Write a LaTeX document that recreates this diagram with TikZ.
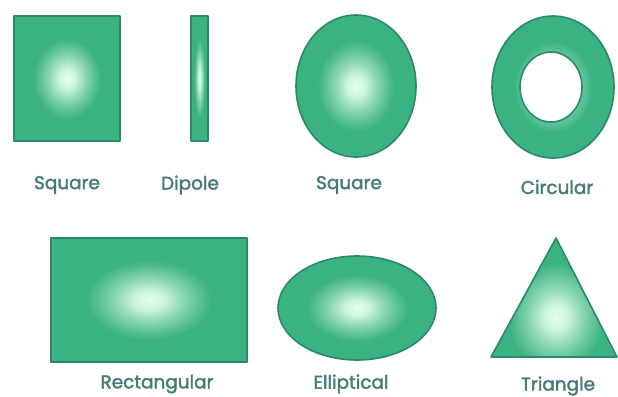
\documentclass[tikz,border=0pt]{standalone}
\usepackage{fontspec}
\setmainfont{Poppins}[FakeBold=1.8]
\definecolor{shapegreen}{HTML}{3AB282}
\definecolor{edgegreen}{HTML}{2A8A63}
\definecolor{glowc}{HTML}{E4FFEA}
\definecolor{labelc}{HTML}{467A75}
\pgfdeclareradialshading{glow}{\pgfpoint{0bp}{0bp}}{%
  color(0bp)=(glowc); color(4bp)=(glowc!85!shapegreen); color(9bp)=(glowc!45!shapegreen);
  color(16bp)=(shapegreen); color(40bp)=(shapegreen); color(50bp)=(shapegreen!92!black)}
\tikzset{
  shapeedge/.style={draw=edgegreen, line width=1.6pt, line join=round},
  lab/.style={text=labelc, font=\fontsize{18.5}{21}\selectfont, anchor=center, inner sep=0pt}
}
\begin{document}
\begin{tikzpicture}[x=1bp,y=-1bp]
\useasboundingbox[fill=white] (0,0) rectangle (618,396);
% square
\shade[shading=glow] (14,16) rectangle (120,141);
\draw[shapeedge] (14,16) rectangle (120,141);
% dipole
\shade[shading=glow] (191,16) rectangle (208,141);
\draw[shapeedge] (191,16) rectangle (208,141);
% ellipse "square"
\shade[shading=glow] (356,86) ellipse [x radius=60, y radius=71];
\draw[shapeedge] (356,86) ellipse [x radius=60, y radius=71];
% ring
\shade[shading=glow, even odd rule] (553,87) ellipse [x radius=61, y radius=71] (551,87) ellipse [x radius=31, y radius=35];
\draw[shapeedge] (553,87) ellipse [x radius=61, y radius=71];
\draw[shapeedge] (551,87) ellipse [x radius=31, y radius=35];
% rectangle
\shade[shading=glow] (51,238) rectangle (247,362);
\draw[shapeedge] (51,238) rectangle (247,362);
% ellipse
\shade[shading=glow] (357,308) ellipse [x radius=79, y radius=52];
\draw[shapeedge] (357,308) ellipse [x radius=79, y radius=52];
% triangle
\begin{scope}
\clip (556,238) -- (491,357) -- (617,357) -- cycle;
\shade[shading=glow] (481,232) rectangle (631,402);
\end{scope}
\draw[shapeedge] (556,238) -- (491,357) -- (617,357) -- cycle;
% labels
\node[lab] (l1) at (67,185) {Square};
\node[lab] (l2) at (190,185) {Dipole};
\node[lab] (l3) at (349,185) {Square};
\node[lab] (l4) at (557,187) {Circular};
\node[lab] (l5) at (157,384) {Rectangular};
\node[lab] (l6) at (351,384) {Elliptical};
\node[lab] (l7) at (558,386) {Triangle};
\end{tikzpicture}
\end{document}
